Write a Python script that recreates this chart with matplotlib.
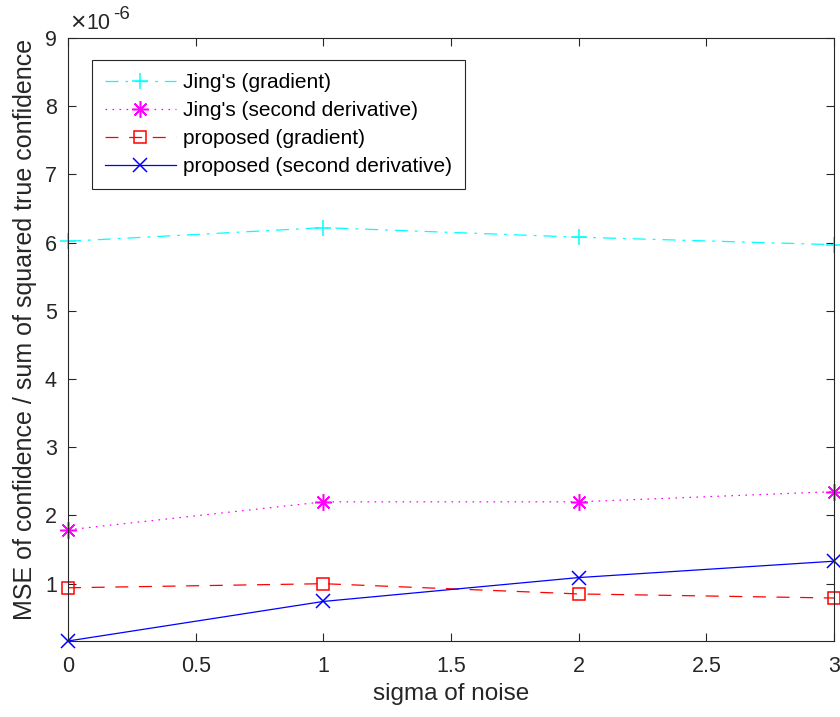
import matplotlib
matplotlib.use("Agg")
import matplotlib.pyplot as plt
from matplotlib.ticker import FuncFormatter

sigma = [0, 1, 2, 3]
jing_gradient = [6.02e-6, 6.22e-6, 6.08e-6, 5.97e-6]
jing_second = [1.79e-6, 2.20e-6, 2.20e-6, 2.35e-6]
proposed_gradient = [0.94e-6, 1.00e-6, 0.85e-6, 0.79e-6]
proposed_second = [0.16e-6, 0.74e-6, 1.09e-6, 1.33e-6]

labels = ["Jing's (gradient)", "Jing's (second derivative)",
          "proposed (gradient)", "proposed (second derivative)"]
x_ticks = [0, 0.5, 1, 1.5, 2, 2.5, 3]
x_tick_labels = ['0', '0.5', '1', '1.5', '2', '2.5', '3']
y_ticks = [v * 1e-6 for v in range(1, 10)]

plt.rcParams['font.family'] = ['Liberation Sans', 'DejaVu Sans']

fig = plt.figure(figsize=(8.4, 7.17), dpi=100)
ax = fig.add_axes([0.081, 0.106, 0.912, 0.841])

dark = (0.15, 0.15, 0.15)
lw = 0.9

ax.plot(sigma, jing_gradient, color='cyan', linestyle='-.', linewidth=lw,
        marker='+', markersize=12, markeredgewidth=1.1, label=labels[0],
        dashes=(10.4, 5.6, 2.2, 5.6), clip_on=False)
ax.plot(sigma, jing_second, color='magenta', linestyle=':', linewidth=lw,
        marker=(8, 2, 0), markersize=12, markeredgewidth=1.1, label=labels[1],
        dashes=(1.3, 4.3), clip_on=False)
ax.plot(sigma, proposed_gradient, color='red', linestyle='--', linewidth=lw,
        marker='s', markersize=8.5, markerfacecolor='none', markeredgewidth=1.1,
        dashes=(10.4, 8.5), label=labels[2], clip_on=False)
ax.plot(sigma, proposed_second, color='blue', linestyle='-', linewidth=lw,
        marker='x', markersize=9.5, markeredgewidth=1.1, label=labels[3],
        clip_on=False)

ax.set_xlim(0, 3)
ax.set_ylim(min(proposed_second), 9e-6)
ax.set_xticks(x_ticks)
ax.set_xticklabels(x_tick_labels)
ax.set_yticks(y_ticks)
ax.yaxis.set_major_formatter(FuncFormatter(lambda v, p: f"{v / 1e-6:g}"))

ax.tick_params(direction='in', top=True, right=True, length=6, width=0.8,
               colors=dark, labelsize=15.5)
ax.tick_params(axis='x', pad=11)
ax.tick_params(axis='y', pad=8)
for s in ax.spines.values():
    s.set_color(dark)
    s.set_linewidth(0.8)

# exponent shown above the y axis
ax.annotate('\u00d7', xy=(0, 1), xycoords='axes fraction',
            xytext=(1.5, 2.5), textcoords='offset points',
            fontsize=19, color=dark, ha='left', va='bottom')
ax.annotate('10', xy=(0, 1), xycoords='axes fraction',
            xytext=(13.5, 3), textcoords='offset points',
            fontsize=15.5, color=dark, ha='left', va='bottom')
ax.annotate('-6', xy=(0, 1), xycoords='axes fraction',
            xytext=(32.5, 11), textcoords='offset points',
            fontsize=13.5, color=dark, ha='left', va='bottom')

ax.set_xlabel('sigma of noise', fontsize=17.5, color=dark, labelpad=4)
ax.set_ylabel('MSE of confidence / sum of squared true confidence',
              fontsize=18, color=dark, labelpad=6)
ax.yaxis.label.set_y(0.517)

leg = ax.legend(loc='upper left', bbox_to_anchor=(0.031, 0.9635), fontsize=15,
                frameon=True, fancybox=False, edgecolor=dark, framealpha=1,
                handlelength=3.4, handletextpad=0.35, borderpad=0.62,
                labelspacing=0.43, borderaxespad=0)
leg.get_frame().set_linewidth(0.8)

fig.savefig('out.png', dpi=100)
